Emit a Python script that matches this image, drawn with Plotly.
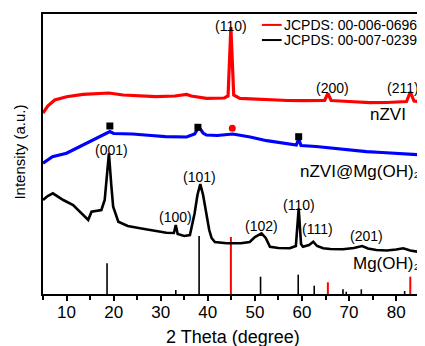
import plotly.graph_objects as go

# ---------------- data ----------------
# nZVI (red curve)
nzvi_x = [5.0, 6.0, 7.5, 10, 13.5, 16.4, 19, 22, 26, 29, 33, 35.5, 36.5, 39.7, 43.5, 44.3,
          44.9, 45.5, 46.8, 50, 53, 57, 60, 64.8, 65.5, 66.2, 70, 74.4, 78, 82.2, 83.0, 83.8, 85.7]
nzvi_y = [181, 188, 194, 197.3, 199.7, 200.7, 201, 199, 198, 197.3, 198, 199.5, 198, 195.7, 196, 198,
          267, 199, 195.7, 195, 194, 193.5, 193.3, 193.5, 200.5, 193.5, 192.5, 191.3, 191.5, 192.5, 202, 193, 192]

# nZVI@Mg(OH)2 (blue curve)
comp_x = [5.0, 7, 10, 13.5, 17, 18.5, 19.2, 20, 24, 28, 31, 35.5, 37.2, 38.1, 39, 39.7, 42, 45.3,
          49, 52.5, 56, 58.8, 59.3, 59.8, 63, 66.6, 70, 73.7, 77, 80.8, 85.7]
comp_y = [130.7, 137.3, 140.7, 149, 157.3, 160, 162.5, 160.5, 160, 158.5, 157.3, 157, 160, 167, 161, 159,
          158.5, 160, 157, 153.3, 151, 149, 155, 148.5, 147.5, 145.7, 144, 142.3, 141.5, 140.7, 139]

# Mg(OH)2 (black curve)
mg_x = [5.0, 6, 7.1, 8, 9.3, 11.4, 13.5, 14.6, 15.3, 16, 17.4, 18.1, 18.5, 19.0, 19.5, 19.9, 21, 23,
        25.6, 28, 31.2, 32.8, 33.2, 33.6, 35, 36.2, 37.2, 37.8, 38.4, 39, 39.7, 40.3, 40.8, 41.5, 44,
        47, 48.9, 50, 51.4, 52.3, 53.2, 55, 57.4, 58.7, 59.3, 59.8, 60.2, 61.5, 62.4, 63.2, 64.5, 66,
        68.7, 71, 72.8, 74, 75.8, 78, 80, 81.5, 83, 85.7]
mg_y = [94, 98, 100.7, 98, 94, 89, 79, 74, 82.3, 83, 84, 94, 114, 140.7, 109, 87.3, 72.3, 68,
        65.7, 63.5, 61.3, 61, 69, 60, 58, 59, 80.7, 99, 110, 99, 80.7, 64, 56, 52, 50.7,
        50.7, 52, 57, 60.7, 56, 47.3, 46, 45.7, 48, 85.7, 50, 47.3, 49, 52.3, 48, 45.7, 45,
        44.7, 46, 48, 45.5, 44, 43.5, 44.5, 45.7, 43.5, 41.3]

# reference patterns (sticks)
fe_pos = [44.9, 65.5, 83.0]          # JCPDS: 00-006-0696
fe_h = [57, 11.7, 17.3]
mg_pos = [18.6, 33.2, 38.15, 51.2, 59.2, 62.6, 68.7, 69.4, 72.6, 81.8]   # JCPDS: 00-007-0239
mg_h = [30.7, 4, 58, 17.3, 19.3, 8.3, 4.7, 2.3, 4.7, 3]

# phase markers on the composite curve
sq_x = [19.2, 37.9, 59.3]
sq_y = [168, 166.7, 157.3]
circ_x = [45.2]
circ_y = [165.7]

# peak labels
peak_text = ["(110)", "(200)", "(211)", "(001)", "(101)", "(100)", "(102)", "(110)", "(111)", "(201)"]
peak_x = [44.9, 66.5, 81.4, 19.5, 38.3, 33.2, 51.4, 59.3, 63.4, 73.7]
peak_y = [268, 205.7, 205.7, 144, 116.7, 76.7, 68, 89, 64.7, 58]

sample_text = ["nZVI", "nZVI@Mg(OH)₂", "Mg(OH)₂"]
sample_x = [78.3, 72.3, 77.9]
sample_y = [180, 122.3, 31]

legend_text = ["JCPDS: 00-006-0696", "JCPDS: 00-007-0239"]
x_ticks = [10, 20, 30, 40, 50, 60, 70, 80]
x_title = "2 Theta (degree)"
y_title = "Intensity (a.u.)"

FONT = "Liberation Sans"
RED = "#ff0000"
BLUE = "#0000ff"


def sticks(pos, h):
    xs, ys = [], []
    for p, v in zip(pos, h):
        xs += [p, p, None]
        ys += [0, v, None]
    return xs, ys


fig = go.Figure()
sx, sy = sticks(mg_pos, mg_h)
fig.add_trace(go.Scatter(x=sx, y=sy, mode="lines", line=dict(color="black", width=1.6),
                         showlegend=False, hoverinfo="skip"))
sx, sy = sticks(fe_pos, fe_h)
fig.add_trace(go.Scatter(x=sx, y=sy, mode="lines", line=dict(color=RED, width=2),
                         showlegend=False, hoverinfo="skip"))

fig.add_trace(go.Scatter(x=mg_x, y=mg_y, mode="lines", line=dict(color="black", width=2.6),
                         showlegend=False))
fig.add_trace(go.Scatter(x=comp_x, y=comp_y, mode="lines", line=dict(color=BLUE, width=3.2),
                         showlegend=False))
fig.add_trace(go.Scatter(x=nzvi_x, y=nzvi_y, mode="lines", line=dict(color=RED, width=3.2),
                         showlegend=False))

fig.add_trace(go.Scatter(x=sq_x, y=sq_y, mode="markers",
                         marker=dict(symbol="square", size=7, color="black"), showlegend=False))
fig.add_trace(go.Scatter(x=circ_x, y=circ_y, mode="markers",
                         marker=dict(symbol="circle", size=7, color=RED), showlegend=False))

for t, x, y in zip(peak_text, peak_x, peak_y):
    fig.add_annotation(x=x, y=y, text=t, showarrow=False,
                       font=dict(family=FONT, size=14, color="black"))
for t, x, y in zip(sample_text, sample_x, sample_y):
    fig.add_annotation(x=x, y=y, text=t, showarrow=False,
                       font=dict(family=FONT, size=17, color="black"))

# legend (manual, in paper coordinates)
leg_colors = [RED, "black"]
leg_y = [0.961, 0.907]
for t, c, yy in zip(legend_text, leg_colors, leg_y):
    fig.add_shape(type="line", xref="paper", yref="paper", x0=0.576, x1=0.628, y0=yy, y1=yy,
                  line=dict(color=c, width=2))
    fig.add_annotation(xref="paper", yref="paper", x=0.630, y=yy, text=t, showarrow=False,
                       xanchor="left", yanchor="middle",
                       font=dict(family=FONT, size=14, color="black"))

# axis titles as annotations (exact placement)
fig.add_annotation(xref="paper", yref="paper", x=0.5, y=-0.154, text=x_title, showarrow=False,
                   xanchor="center", yanchor="middle", font=dict(family=FONT, size=18, color="black"))
fig.add_annotation(xref="paper", yref="paper", x=-0.061, y=0.508, text=y_title, showarrow=False,
                   textangle=-90, xanchor="center", yanchor="middle",
                   font=dict(family=FONT, size=15, color="black"))

# the page adds an 8 px body margin, so the figure is placed 8 px in from the window edge
fig.update_layout(
    width=417, height=338,
    margin=dict(l=35, r=2, t=6, b=52, autoexpand=False),
    paper_bgcolor="white", plot_bgcolor="white",
    font=dict(family=FONT, color="black"),
    showlegend=False,
)
fig.update_xaxes(range=[5, 85.7], tickvals=x_ticks, ticks="outside", ticklen=5, tickwidth=1.5,
                 tickcolor="black", minor=dict(dtick=5, tick0=5, ticks="outside", ticklen=4,
                                               tickwidth=1.5, tickcolor="black"),
                 showline=True, linewidth=2, linecolor="black", mirror=True, showgrid=False,
                 zeroline=False, tickfont=dict(family=FONT, size=17), ticklabelstandoff=-3,
                 automargin=False)
fig.update_yaxes(range=[0, 280], showticklabels=False, ticks="", showline=True, linewidth=2,
                 linecolor="black", mirror=True, showgrid=False, zeroline=False, automargin=False)

fig.write_html("out.html")
